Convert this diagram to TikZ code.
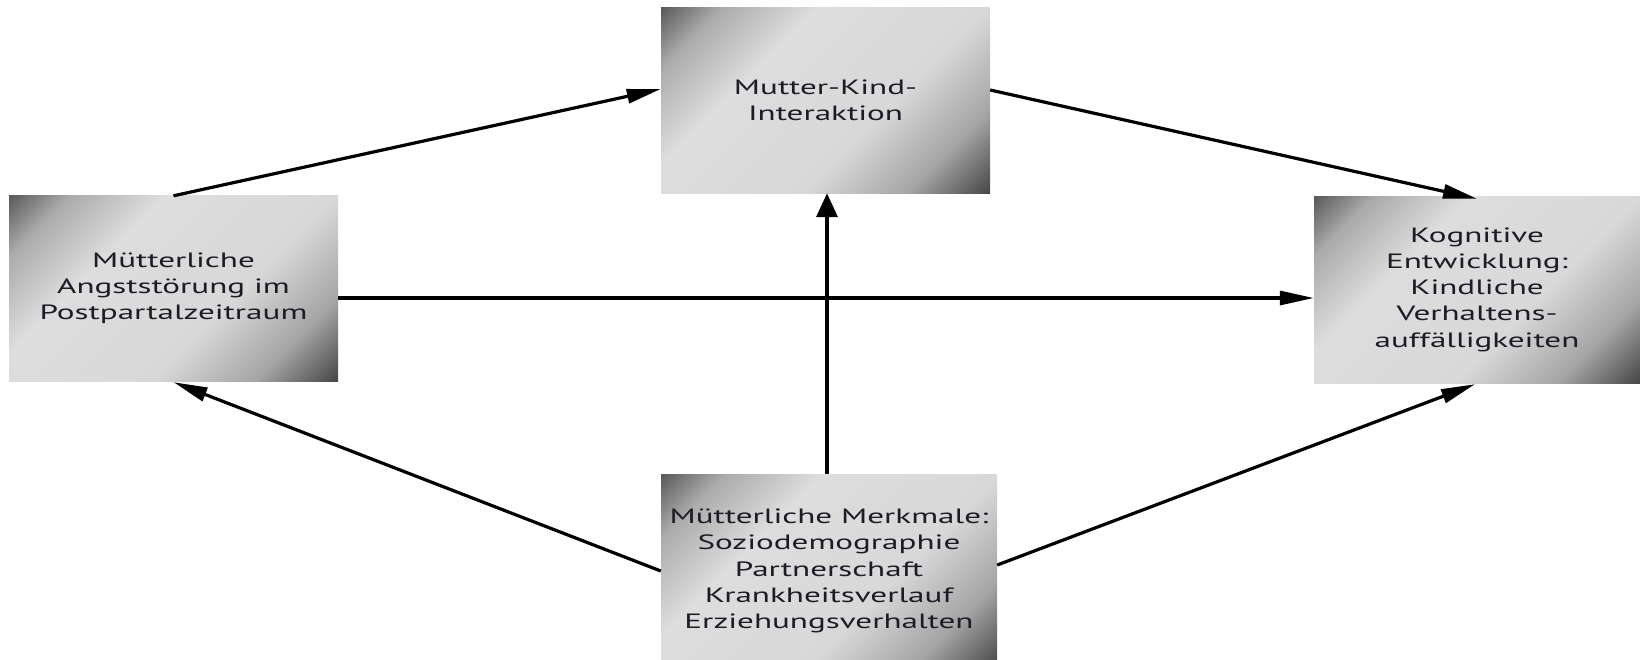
\documentclass[tikz,border=0pt]{standalone}
\usepackage{fontspec}
\setmainfont{PT Sans}[FakeStretch=1.6]
\usetikzlibrary{arrows.meta}
\definecolor{sA}{HTML}{5A5A5A}
\definecolor{sB}{HTML}{ABABAB}
\definecolor{sC}{HTML}{DDDDDD}
\definecolor{sD}{HTML}{D8D8D8}
\definecolor{sE}{HTML}{A5A5A5}
\definecolor{sF}{HTML}{474747}
\definecolor{txt}{HTML}{1C1C26}
\pgfdeclarehorizontalshading{boxshade}{100bp}{color(0bp)=(sA); color(14.6bp)=(sA); color(23bp)=(sB); color(36bp)=(sC); color(60bp)=(sD); color(74bp)=(sE); color(85.4bp)=(sF); color(100bp)=(sF)}
\tikzset{
  box/.style={rectangle, shading=boxshade, shading angle=-45, align=center, inner sep=0pt,
    text=txt, font=\fontsize{20.7}{26.2}\selectfont},
  arr/.style={line width=3.2pt, -{Triangle[length=34pt,width=14pt]}},
  arrv/.style={line width=3.6pt, -{Triangle[length=24pt,width=21pt]}}
}
\begin{document}
\begin{tikzpicture}[x=1pt,y=-1pt]
\useasboundingbox (0,0) rectangle (1640,659);
\node[box, minimum width=329pt, minimum height=186pt] (L) at (173.5,288) {Mütterliche\\Angststörung im\\Postpartalzeitraum};
\node[box, minimum width=329pt, minimum height=186pt] (T) at (825.5,100) {Mutter-Kind-\\Interaktion};
\node[box, minimum width=326pt, minimum height=187pt] (R) at (1477,289.5) {Kognitive\\Entwicklung:\\Kindliche\\Verhaltens-\\auffälligkeiten};
\node[box, minimum width=336pt, minimum height=194pt] (B) at (829,571) {Mütterliche Merkmale:\\Soziodemographie\\Partnerschaft\\Krankheitsverlauf\\Erziehungsverhalten};
\draw[arr] ([yshift=-1pt]L.north) -- ([yshift=11pt]T.west);
\draw[arr] ([yshift=10pt]T.east) -- ([yshift=-3pt]R.north);
\draw[arr] ([yshift=-10pt]L.east) -- ([yshift=-10pt]L.east -| R.west);
\draw[arrv] ([xshift=-2pt]B.north) -- ([xshift=-2pt]B.north |- T.south);
\draw[arr] ([yshift=0pt]B.west) -- ([yshift=-1pt]L.south);
\draw[arr] ([yshift=6pt]B.east) -- ([xshift=-2pt,yshift=-1pt]R.south);
\end{tikzpicture}
\end{document}
